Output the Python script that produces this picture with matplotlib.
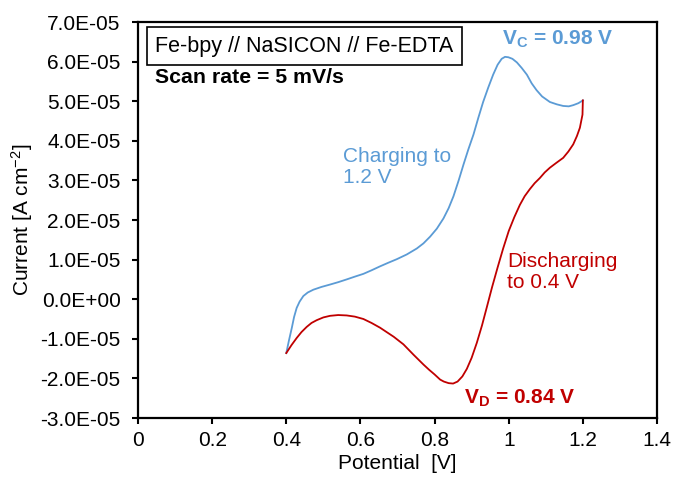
import matplotlib
matplotlib.use("Agg")
import matplotlib.pyplot as plt
import numpy as np
from matplotlib.ticker import FuncFormatter

# charging sweep 0.4 -> 1.2 V (current in 1e-5 A cm-2)
charge_v = [0.400, 0.407, 0.415, 0.421, 0.428, 0.436, 0.446, 0.458, 0.473, 0.495,
            0.518, 0.540, 0.563, 0.585, 0.608, 0.630, 0.653, 0.675, 0.698, 0.725,
            0.752, 0.770, 0.788, 0.806, 0.824, 0.838, 0.851, 0.865, 0.878, 0.891,
            0.905, 0.918, 0.931, 0.945, 0.958, 0.970, 0.981, 0.990, 0.999, 1.010,
            1.022, 1.035, 1.049, 1.062, 1.075, 1.090, 1.111, 1.130, 1.147, 1.162,
            1.174, 1.188, 1.200]
charge_i = [-1.36, -1.05, -0.72, -0.45, -0.22, -0.06, 0.08, 0.17, 0.24, 0.31,
            0.37, 0.43, 0.50, 0.57, 0.64, 0.73, 0.83, 0.92, 1.01, 1.13,
            1.28, 1.41, 1.58, 1.78, 2.04, 2.30, 2.60, 3.00, 3.40, 3.78,
            4.16, 4.58, 4.98, 5.35, 5.67, 5.92, 6.07, 6.12, 6.11, 6.07,
            5.98, 5.84, 5.67, 5.45, 5.28, 5.12, 4.98, 4.92, 4.88, 4.87,
            4.90, 4.95, 5.02]

# discharging sweep 1.2 -> 0.4 V
discharge_v = [1.200, 1.199, 1.192, 1.184, 1.174, 1.161, 1.147, 1.128, 1.111, 1.097,
               1.084, 1.070, 1.057, 1.043, 1.030, 1.015, 1.000, 0.985, 0.970, 0.955,
               0.941, 0.928, 0.914, 0.900, 0.887, 0.875, 0.862, 0.850, 0.838,
               0.825, 0.815, 0.800, 0.785, 0.770, 0.743, 0.716, 0.690, 0.653, 0.630,
               0.608, 0.585, 0.563, 0.540, 0.518, 0.500, 0.482, 0.468, 0.455, 0.441,
               0.428, 0.414, 0.400]
discharge_i = [5.02, 4.66, 4.33, 4.12, 3.91, 3.73, 3.57, 3.44, 3.32, 3.20,
               3.06, 2.93, 2.78, 2.60, 2.38, 2.07, 1.72, 1.28, 0.80, 0.30,
               -0.20, -0.66, -1.10, -1.48, -1.76, -1.95, -2.08, -2.13, -2.12,
               -2.08, -2.03, -1.90, -1.78, -1.65, -1.40, -1.14, -0.95, -0.72, -0.60,
               -0.50, -0.44, -0.41, -0.40, -0.42, -0.46, -0.53, -0.60, -0.70, -0.83,
               -0.98, -1.16, -1.36]

x_ticks = [0, 0.2, 0.4, 0.6, 0.8, 1.0, 1.2, 1.4]
y_ticks = np.linspace(-3, 7, 11) * 1e-5

blue = "#5B9BD5"
red = "#C00000"

plt.rcParams["font.family"] = ["Liberation Sans", "DejaVu Sans"]
plt.rcParams["mathtext.fontset"] = "custom"
plt.rcParams["mathtext.rm"] = "Liberation Sans"
plt.rcParams["mathtext.bf"] = "Liberation Sans:bold"
plt.rcParams["mathtext.it"] = "Liberation Sans:italic"
fs = 15

fig = plt.figure(figsize=(6.85, 4.83), dpi=100)
ax = fig.add_axes([138 / 685, 65 / 483, 519 / 685, 396 / 483])

ax.plot(charge_v, np.array(charge_i) * 1e-5, color=blue, lw=1.3)
ax.plot(discharge_v, np.array(discharge_i) * 1e-5, color=red, lw=1.3)

ax.set_xlim(0, 1.4)
ax.set_ylim(-3e-5, 7e-5)
ax.set_xticks(x_ticks)
ax.set_yticks(y_ticks)
ax.xaxis.set_major_formatter(FuncFormatter(lambda v, p: f"{v:g}"))
ax.yaxis.set_major_formatter(FuncFormatter(lambda v, p: f"{v:.1E}"))
ax.tick_params(direction="out", length=4.5, width=1.5, labelsize=fs, colors="black")
ax.tick_params(axis="y", pad=8)
ax.tick_params(axis="x", pad=5)
for s in ax.spines.values():
    s.set_linewidth(1.6)

ax.set_xlabel("Potential  [V]", fontsize=fs, labelpad=3)
ax.set_ylabel("Current [A cm$^{-2}$]", fontsize=fs, labelpad=4)

ax.text(0.033, 0.939, "Fe-bpy // NaSICON // Fe-EDTA", transform=ax.transAxes,
        fontsize=15.5, va="center", ha="left",
        bbox=dict(boxstyle="square,pad=0.4", fc="white", ec="black", lw=1.2))
ax.text(0.033, 0.859, "Scan rate = 5 mV/s", transform=ax.transAxes,
        fontsize=15.3, fontweight="bold", va="center", ha="left")

ax.text(0.982, 6.57e-5, r"V$_\mathbf{C}$ = 0.98 V", color=blue, fontsize=fs,
        fontweight="bold", va="center", ha="left")
ax.text(0.553, 3.33e-5, "Charging to\n1.2 V", color=blue, fontsize=fs,
        va="center", ha="left", linespacing=1.15)
ax.text(0.995, 0.68e-5, "Discharging\nto 0.4 V", color=red, fontsize=fs,
        va="center", ha="left", linespacing=1.15)
ax.text(0.879, -2.5e-5, r"V$_\mathbf{D}$ = 0.84 V", color=red, fontsize=fs,
        fontweight="bold", va="center", ha="left")

fig.savefig("out.png", dpi=100)
